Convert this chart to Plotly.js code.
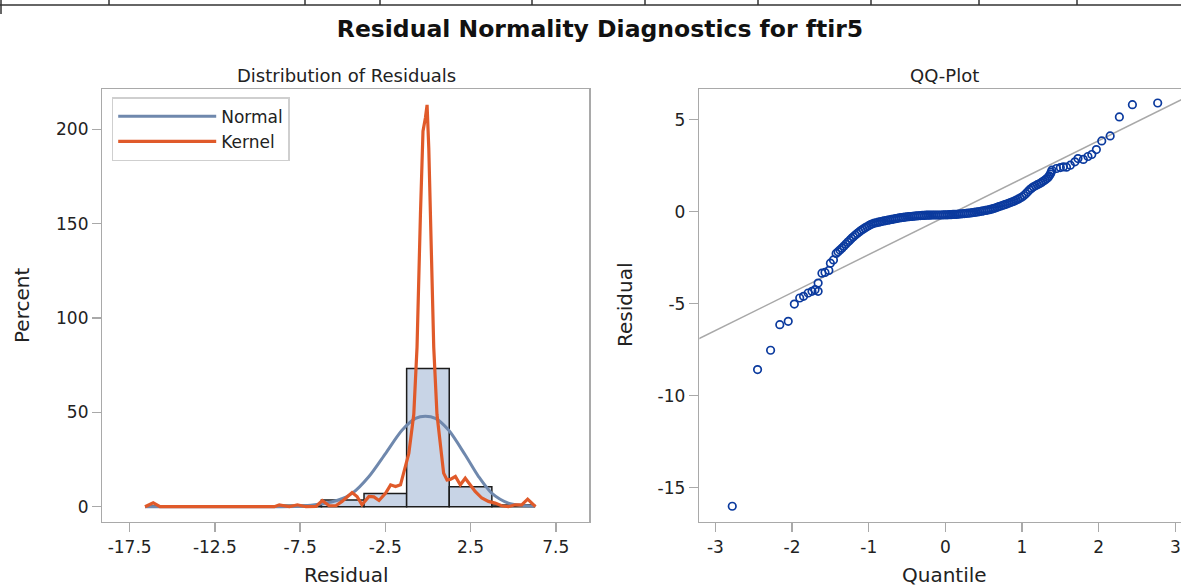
<!DOCTYPE html>
<html>
<head>
<meta charset="utf-8">
<script src="https://cdn.plot.ly/plotly-3.0.1.min.js"></script>
<style>html,body{margin:0;padding:0;background:#fff;}#chart{width:1181px;height:587px;}</style>
</head>
<body>
<div id="chart"></div>
<script>
// ---- Histogram of residuals (percent) ----
const binCenters = [-15, -7.5, -5, -2.5, 0, 2.5, 5];
const binPercent = [0.41, 0.82, 3.5, 7.0, 73.2, 10.6, 0.9];

// ---- Normal density curve (percent) ----
const normalX = [-16.6, -9.0, -7.6, -6.19, -5.3, -4.43, -3.46, -2.48, -1.51, -0.73, -0.15, 0.44, 1.21, 2.19, 2.97, 3.74, 4.72, 5.5, 6.28];
const normalY = [0, 0, 0.2, 1.6, 3.4, 7.2, 16, 28.3, 40.6, 46.8, 48, 46.8, 40.6, 27.4, 16, 7.2, 1.9, 0.7, 0.2];

// ---- Kernel density curve (percent) ----
const kernelX = [-16.6, -16.12, -15.72, -9.01, -8.72, -8.13, -7.66, -7.16, -6.57, -6.20, -5.80, -5.40, -5.04, -4.45, -4.16, -3.87, -3.46, -3.17, -2.87, -2.48, -2.19, -1.90, -1.61, -1.41, -1.12, -0.83, -0.64, -0.44, -0.29, -0.15, -0.05, 0.05, 0.20, 0.34, 0.53, 0.73, 0.92, 1.12, 1.31, 1.61, 1.90, 2.19, 2.48, 2.77, 3.16, 3.55, 3.94, 4.33, 4.72, 5.11, 5.50, 5.85, 6.08, 6.31];
const kernelY = [0, 2.1, 0, 0, 1.0, 0, 1.0, 0, 0.2, 3.3, 0.5, 0.5, 2.8, 7.5, 5.4, 1.0, 5.4, 5.2, 3.3, 7.2, 11.6, 10.7, 11.6, 17.8, 28.3, 49, 84.6, 155, 199, 206, 213, 190, 137, 84.6, 49, 31.8, 17.8, 14.2, 14.5, 16, 11.6, 15.1, 11.6, 8.1, 4.6, 2.8, 1.9, 0.5, 0, 1.0, 1.0, 4.0, 2.0, 0];

// ---- QQ plot points: normal quantile vs residual ----
const qqQuantile = [-2.78, -2.45, -2.28, -2.16, -2.05, -1.97, -1.90, -1.85, -1.79, -1.74, -1.70, -1.66, -1.66, -1.61, -1.57, -1.52, -1.50, -1.46,
  -1.425, -1.40, -1.375, -1.35, -1.325, -1.30, -1.275, -1.25, -1.225, -1.20, -1.175, -1.15, -1.125, -1.10, -1.075, -1.05, -1.025, -1.00,
  -0.975, -0.95, -0.925, -0.90, -0.875, -0.85, -0.825, -0.80, -0.775, -0.75, -0.725, -0.70, -0.675, -0.65, -0.625, -0.60, -0.575, -0.55,
  -0.525, -0.50, -0.475, -0.45, -0.425, -0.40, -0.375, -0.35, -0.325, -0.30, -0.275, -0.25, -0.225, -0.20, -0.175, -0.15, -0.125, -0.10,
  -0.075, -0.05, -0.025, 0.00, 0.025, 0.05, 0.075, 0.10, 0.125, 0.15, 0.175, 0.20, 0.225, 0.25, 0.275, 0.30, 0.325, 0.35, 0.375, 0.40,
  0.425, 0.45, 0.475, 0.50, 0.525, 0.55, 0.575, 0.60, 0.625, 0.65, 0.675, 0.70, 0.725, 0.75, 0.775, 0.80, 0.825, 0.85, 0.875, 0.90,
  0.925, 0.95, 0.975, 1.00, 1.025, 1.05, 1.075, 1.10, 1.125, 1.15, 1.175, 1.20, 1.225, 1.25, 1.275, 1.30, 1.32, 1.34, 1.355, 1.37, 1.38, 1.39,
  1.45, 1.50, 1.54, 1.58, 1.63, 1.69, 1.73, 1.80, 1.86, 1.91, 1.97, 2.04, 2.15, 2.27, 2.44, 2.77];
const qqResidual = [-16.01, -8.58, -7.53, -6.14, -5.96, -5.02, -4.69, -4.60, -4.42, -4.33, -4.24, -4.33, -3.88, -3.34, -3.30, -3.19, -2.80, -2.62,
  -2.27, -2.17, -2.08, -1.98, -1.88, -1.77, -1.66, -1.56, -1.45, -1.36, -1.27, -1.18, -1.10, -1.02, -0.95, -0.88, -0.82, -0.76,
  -0.70, -0.66, -0.62, -0.60, -0.57, -0.55, -0.52, -0.50, -0.48, -0.46, -0.44, -0.42, -0.40, -0.38, -0.36, -0.34, -0.32, -0.31,
  -0.29, -0.28, -0.27, -0.26, -0.25, -0.24, -0.23, -0.22, -0.21, -0.20, -0.20, -0.19, -0.19, -0.19, -0.18, -0.18, -0.18, -0.18,
  -0.18, -0.18, -0.17, -0.17, -0.17, -0.16, -0.16, -0.15, -0.15, -0.14, -0.13, -0.12, -0.11, -0.10, -0.09, -0.08, -0.07, -0.05, -0.04, -0.02,
  -0.01, 0.01, 0.03, 0.05, 0.07, 0.09, 0.11, 0.14, 0.17, 0.20, 0.24, 0.28, 0.31, 0.35, 0.38, 0.42, 0.46, 0.50, 0.54, 0.58,
  0.63, 0.68, 0.74, 0.80, 0.88, 0.98, 1.09, 1.20, 1.28, 1.35, 1.41, 1.47, 1.52, 1.58, 1.65, 1.72, 1.79, 1.86, 1.95, 2.05, 2.15, 2.26,
  2.35, 2.40, 2.44, 2.42, 2.53, 2.71, 2.89, 2.84, 3.00, 3.11, 3.38, 3.85, 4.12, 5.15, 5.82, 5.91];

// ---- QQ reference line ----
const refQuantile = [-3.3, 3.3];
const refResidual = [-7.08, 6.55];

// ---- tick labels ----
const histTickVals = [-17.5, -12.5, -7.5, -2.5, 2.5, 7.5];
const histTickText = ['-17.5', '-12.5', '-7.5', '-2.5', '2.5', '7.5'];
const pctTickVals = [0, 50, 100, 150, 200];
const pctTickText = ['0', '50', '100', '150', '200'];
const qqXTickVals = [-3, -2, -1, 0, 1, 2, 3];
const qqXTickText = ['-3', '-2', '-1', '0', '1', '2', '3'];
const qqYTickVals = [-15, -10, -5, 0, 5];
const qqYTickText = ['-15', '-10', '-5', '0', '5'];

const FONT = 'DejaVu Sans, Liberation Sans, Arial, sans-serif';
const AX = '#a9a9a9';

const traces = [
  {type: 'bar', x: binCenters, y: binPercent, width: 2.5, xaxis: 'x', yaxis: 'y',
   marker: {color: '#c8d4e6', line: {color: '#1c1c1c', width: 1.5}}, showlegend: false, hoverinfo: 'x+y'},
  {type: 'scatter', mode: 'lines', x: normalX, y: normalY, name: 'Normal', xaxis: 'x', yaxis: 'y',
   line: {color: '#6f88ad', width: 3, shape: 'spline', smoothing: 0.8}},
  {type: 'scatter', mode: 'lines', x: kernelX, y: kernelY, name: 'Kernel', xaxis: 'x', yaxis: 'y',
   line: {color: '#e05a2a', width: 3.2}},
  {type: 'scatter', mode: 'lines', x: refQuantile, y: refResidual, xaxis: 'x2', yaxis: 'y2',
   line: {color: '#a8a8a8', width: 1.5}, showlegend: false, hoverinfo: 'skip'},
  {type: 'scatter', mode: 'markers', x: qqQuantile, y: qqResidual, xaxis: 'x2', yaxis: 'y2',
   marker: {symbol: 'circle-open', size: 7.5, color: '#0b3a9e', line: {width: 1.7, color: '#0b3a9e'}}, showlegend: false}
];

function axisBase() {
  return {showline: true, linecolor: AX, linewidth: 1.5, ticks: 'outside', ticklen: 9, tickwidth: 1.5,
          tickcolor: AX, showgrid: false, zeroline: false, fixedrange: true,
          tickfont: {family: FONT, size: 17, color: '#222'}};
}

const H = 587, W = 1181;
const py = px => (H - px) / H;
const pxx = px => px / W;

const layout = {
  width: W, height: H,
  margin: {l: 0, r: 0, t: 0, b: 0},
  paper_bgcolor: '#fff', plot_bgcolor: '#fff',
  title: {text: 'Residual Normality Diagnostics for ftir5', x: pxx(600), y: py(29), xanchor: 'center', yanchor: 'middle',
          font: {family: FONT, size: 23.5, color: '#111', weight: 'bold'}},
  xaxis: Object.assign(axisBase(), {domain: [pxx(102.4), pxx(589)], range: [-19.1, 9.45], tickvals: histTickVals, ticktext: histTickText, mirror: true, anchor: 'y'}),
  yaxis: Object.assign(axisBase(), {domain: [py(521.7), py(89)], range: [-7.95, 221.4], tickvals: pctTickVals, ticktext: pctTickText, mirror: true, anchor: 'x'}),
  xaxis2: Object.assign(axisBase(), {domain: [pxx(699.3), 1], range: [-3.21, 3.074], tickvals: qqXTickVals, ticktext: qqXTickText, mirror: true, anchor: 'y2'}),
  yaxis2: Object.assign(axisBase(), {domain: [py(521.7), py(89)], range: [-16.85, 6.67], tickvals: qqYTickVals, ticktext: qqYTickText, mirror: false, anchor: 'x2'}),
  showlegend: true,
  legend: {x: pxx(111.7), y: py(97.3), xanchor: 'left', yanchor: 'top', bgcolor: '#fff', bordercolor: '#cfcfcf', borderwidth: 1.5,
           font: {family: FONT, size: 17, color: '#222'}, itemwidth: 98, tracegroupgap: 0},
  annotations: [
    {text: 'Distribution of Residuals', xref: 'paper', yref: 'paper', x: pxx(346), y: py(75), showarrow: false, xanchor: 'center', yanchor: 'middle', font: {family: FONT, size: 18, color: '#222'}},
    {text: 'QQ-Plot', xref: 'paper', yref: 'paper', x: pxx(944), y: py(75), showarrow: false, xanchor: 'center', yanchor: 'middle', font: {family: FONT, size: 18, color: '#222'}},
    {text: 'Percent', xref: 'paper', yref: 'paper', x: pxx(22), y: py(306), showarrow: false, textangle: -90, xanchor: 'center', yanchor: 'middle', font: {family: FONT, size: 20, color: '#222'}},
    {text: 'Residual', xref: 'paper', yref: 'paper', x: pxx(346), y: py(575), showarrow: false, xanchor: 'center', yanchor: 'middle', font: {family: FONT, size: 20, color: '#222'}},
    {text: 'Quantile', xref: 'paper', yref: 'paper', x: pxx(944), y: py(575), showarrow: false, xanchor: 'center', yanchor: 'middle', font: {family: FONT, size: 20, color: '#222'}},
    {text: 'Residual', xref: 'paper', yref: 'paper', x: pxx(625), y: py(305), showarrow: false, textangle: -90, xanchor: 'center', yanchor: 'middle', font: {family: FONT, size: 20, color: '#222'}}
  ],
  shapes: [
    {type: 'line', xref: 'paper', yref: 'paper', x0: 0, x1: 1, y0: py(5), y1: py(5), line: {color: '#333', width: 1.5}},
    {type: 'line', xref: 'paper', yref: 'paper', x0: pxx(1), x1: pxx(1), y0: py(0), y1: py(14), line: {color: '#333', width: 1.5}}
  ].concat([109, 305, 380, 532, 645, 758, 871, 979, 1077].map(v => (
    {type: 'line', xref: 'paper', yref: 'paper', x0: pxx(v), x1: pxx(v), y0: py(0), y1: py(5), line: {color: '#333', width: 1.5}}
  )))
};

Plotly.newPlot('chart', traces, layout, {displayModeBar: false, staticPlot: true});
</script>
</body>
</html>
